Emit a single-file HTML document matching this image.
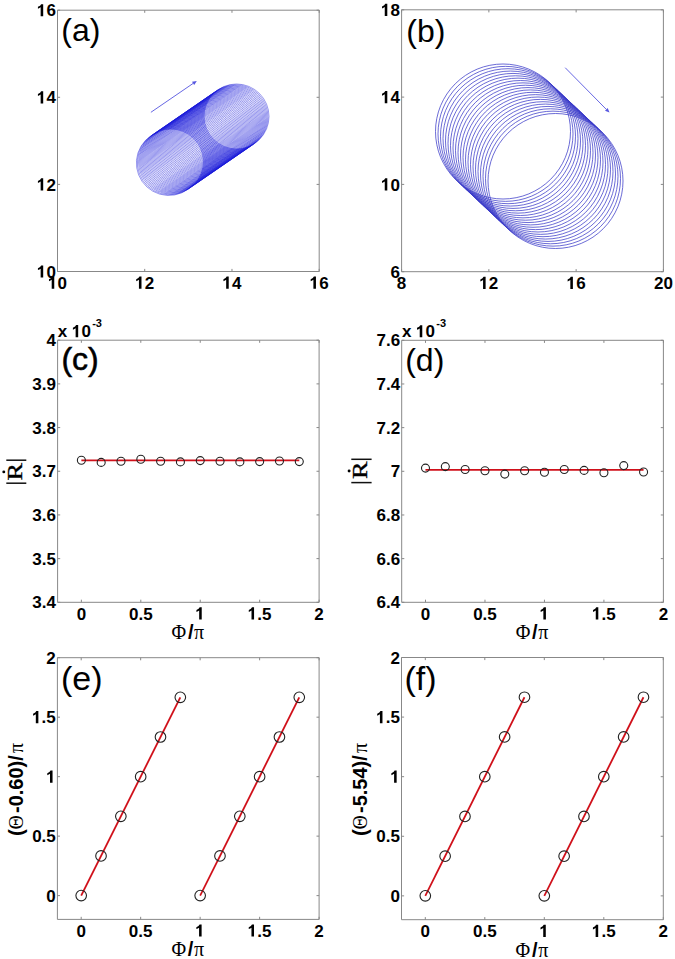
<!DOCTYPE html><html><head><meta charset="utf-8"><style>html,body{margin:0;padding:0;background:#fff}svg{display:block}</style></head><body><svg width="675" height="959" viewBox="0 0 675 959"><style>.t{font-family:'Liberation Sans', sans-serif;font-weight:bold;font-size:17px;fill:#000}.pl{font-family:'Liberation Sans', sans-serif;font-size:32.5px;fill:#000}.se{font-family:'Liberation Serif', serif;fill:#000}</style><rect width="675" height="959" fill="#fff"/><g fill="none" stroke="#1a1ad8" stroke-width="0.45"><circle cx="171.00" cy="161.50" r="32.5"/><circle cx="172.04" cy="160.79" r="32.5"/><circle cx="173.08" cy="160.07" r="32.5"/><circle cx="174.12" cy="159.36" r="32.5"/><circle cx="175.16" cy="158.64" r="32.5"/><circle cx="176.20" cy="157.93" r="32.5"/><circle cx="177.24" cy="157.21" r="32.5"/><circle cx="178.28" cy="156.50" r="32.5"/><circle cx="179.32" cy="155.79" r="32.5"/><circle cx="180.36" cy="155.07" r="32.5"/><circle cx="181.40" cy="154.36" r="32.5"/><circle cx="182.44" cy="153.64" r="32.5"/><circle cx="183.48" cy="152.93" r="32.5"/><circle cx="184.52" cy="152.21" r="32.5"/><circle cx="185.56" cy="151.50" r="32.5"/><circle cx="186.60" cy="150.79" r="32.5"/><circle cx="187.63" cy="150.07" r="32.5"/><circle cx="188.67" cy="149.36" r="32.5"/><circle cx="189.71" cy="148.64" r="32.5"/><circle cx="190.75" cy="147.93" r="32.5"/><circle cx="191.79" cy="147.21" r="32.5"/><circle cx="192.83" cy="146.50" r="32.5"/><circle cx="193.87" cy="145.79" r="32.5"/><circle cx="194.91" cy="145.07" r="32.5"/><circle cx="195.95" cy="144.36" r="32.5"/><circle cx="196.99" cy="143.64" r="32.5"/><circle cx="198.03" cy="142.93" r="32.5"/><circle cx="199.07" cy="142.21" r="32.5"/><circle cx="200.11" cy="141.50" r="32.5"/><circle cx="201.15" cy="140.79" r="32.5"/><circle cx="202.19" cy="140.07" r="32.5"/><circle cx="203.23" cy="139.36" r="32.5"/><circle cx="204.27" cy="138.64" r="32.5"/><circle cx="205.31" cy="137.93" r="32.5"/><circle cx="206.35" cy="137.21" r="32.5"/><circle cx="207.39" cy="136.50" r="32.5"/><circle cx="208.43" cy="135.79" r="32.5"/><circle cx="209.47" cy="135.07" r="32.5"/><circle cx="210.51" cy="134.36" r="32.5"/><circle cx="211.55" cy="133.64" r="32.5"/><circle cx="212.59" cy="132.93" r="32.5"/><circle cx="213.63" cy="132.21" r="32.5"/><circle cx="214.67" cy="131.50" r="32.5"/><circle cx="215.71" cy="130.79" r="32.5"/><circle cx="216.75" cy="130.07" r="32.5"/><circle cx="217.79" cy="129.36" r="32.5"/><circle cx="218.83" cy="128.64" r="32.5"/><circle cx="219.87" cy="127.93" r="32.5"/><circle cx="220.90" cy="127.21" r="32.5"/><circle cx="221.94" cy="126.50" r="32.5"/><circle cx="222.98" cy="125.79" r="32.5"/><circle cx="224.02" cy="125.07" r="32.5"/><circle cx="225.06" cy="124.36" r="32.5"/><circle cx="226.10" cy="123.64" r="32.5"/><circle cx="227.14" cy="122.93" r="32.5"/><circle cx="228.18" cy="122.21" r="32.5"/><circle cx="229.22" cy="121.50" r="32.5"/><circle cx="230.26" cy="120.79" r="32.5"/><circle cx="231.30" cy="120.07" r="32.5"/><circle cx="232.34" cy="119.36" r="32.5"/><circle cx="233.38" cy="118.64" r="32.5"/><circle cx="234.42" cy="117.93" r="32.5"/><circle cx="235.46" cy="117.21" r="32.5"/><circle cx="236.50" cy="116.50" r="32.5"/><path d="M194.30,183.69A32.5,32.5 0 1 1 158.64,131.79"/><path d="M193.32,184.37A32.5,32.5 0 1 1 157.65,132.46"/></g><line x1="150.9" y1="112.3" x2="193.09" y2="83.44" stroke="#5656e0" stroke-width="0.9"/><path d="M196.8,80.9L194.16,85.01L192.01,81.87Z" fill="#5656e0"/><path d="M57.50,10.20H319.20V271.50H57.50ZM57.50,271.50v-2.6M57.50,10.20v2.6M144.73,271.50v-2.6M144.73,10.20v2.6M231.97,271.50v-2.6M231.97,10.20v2.6M319.20,271.50v-2.6M319.20,10.20v2.6M57.50,271.50h2.6M319.20,271.50h-2.6M57.50,184.40h2.6M319.20,184.40h-2.6M57.50,97.30h2.6M319.20,97.30h-2.6M57.50,10.20h2.6M319.20,10.20h-2.6" fill="none" stroke="#888" stroke-width="1"/><text x="57.50" y="288.70" class="t" style="font-size:17px" >0</text><path d="M54.25,288.70L54.25,276.53L52.21,276.53Q51.70,278.07 48.98,279.26L48.98,281.22Q50.60,280.71 51.70,279.77L51.70,288.70Z" fill="#000"/><text x="144.73" y="288.70" class="t" style="font-size:17px" >2</text><path d="M141.49,288.70L141.49,276.53L139.45,276.53Q138.94,278.07 136.22,279.26L136.22,281.22Q137.83,280.71 138.94,279.77L138.94,288.70Z" fill="#000"/><text x="231.97" y="288.70" class="t" style="font-size:17px" >4</text><path d="M228.72,288.70L228.72,276.53L226.68,276.53Q226.17,278.07 223.45,279.26L223.45,281.22Q225.06,280.71 226.17,279.77L226.17,288.70Z" fill="#000"/><text x="319.20" y="288.70" class="t" style="font-size:17px" >6</text><path d="M315.95,288.70L315.95,276.53L313.91,276.53Q313.40,278.07 310.68,279.26L310.68,281.22Q312.30,280.71 313.40,279.77L313.40,288.70Z" fill="#000"/><text x="46.45" y="277.60" class="t" style="font-size:17px" >0</text><path d="M43.20,277.60L43.20,265.43L41.16,265.43Q40.65,266.98 37.93,268.17L37.93,270.12Q39.55,269.61 40.65,268.68L40.65,277.60Z" fill="#000"/><text x="46.45" y="190.50" class="t" style="font-size:17px" >2</text><path d="M43.20,190.50L43.20,178.33L41.16,178.33Q40.65,179.88 37.93,181.06L37.93,183.02Q39.55,182.51 40.65,181.57L40.65,190.50Z" fill="#000"/><text x="46.45" y="103.40" class="t" style="font-size:17px" >4</text><path d="M43.20,103.40L43.20,91.23L41.16,91.23Q40.65,92.78 37.93,93.97L37.93,95.92Q39.55,95.41 40.65,94.48L40.65,103.40Z" fill="#000"/><text x="46.45" y="16.30" class="t" style="font-size:17px" >6</text><path d="M43.20,16.30L43.20,4.13L41.16,4.13Q40.65,5.67 37.93,6.86L37.93,8.82Q39.55,8.31 40.65,7.37L40.65,16.30Z" fill="#000"/><text x="61.3" y="40.6" class="pl" style="font-size:32px">(a)</text><g fill="none" stroke="#3a3ac8" stroke-width="0.75"><circle cx="503.00" cy="131.50" r="67.5"/><circle cx="505.50" cy="133.86" r="67.5"/><circle cx="508.00" cy="136.21" r="67.5"/><circle cx="510.50" cy="138.57" r="67.5"/><circle cx="513.00" cy="140.93" r="67.5"/><circle cx="515.50" cy="143.29" r="67.5"/><circle cx="518.00" cy="145.64" r="67.5"/><circle cx="520.50" cy="148.00" r="67.5"/><circle cx="523.00" cy="150.36" r="67.5"/><circle cx="525.50" cy="152.71" r="67.5"/><circle cx="528.00" cy="155.07" r="67.5"/><circle cx="530.50" cy="157.43" r="67.5"/><circle cx="533.00" cy="159.79" r="67.5"/><circle cx="535.50" cy="162.14" r="67.5"/><circle cx="538.00" cy="164.50" r="67.5"/><circle cx="540.50" cy="166.86" r="67.5"/><circle cx="543.00" cy="169.21" r="67.5"/><circle cx="545.50" cy="171.57" r="67.5"/><circle cx="548.00" cy="173.93" r="67.5"/><circle cx="550.50" cy="176.29" r="67.5"/><circle cx="553.00" cy="178.64" r="67.5"/><circle cx="555.50" cy="181.00" r="67.5"/></g><line x1="565.2" y1="67.7" x2="606.34" y2="109.40" stroke="#5656e0" stroke-width="0.9"/><path d="M609.5,112.6L604.99,110.73L607.69,108.06Z" fill="#5656e0"/><path d="M401.60,9.80H663.40V271.70H401.60ZM401.60,271.70v-2.6M401.60,9.80v2.6M488.87,271.70v-2.6M488.87,9.80v2.6M576.13,271.70v-2.6M576.13,9.80v2.6M663.40,271.70v-2.6M663.40,9.80v2.6M401.60,271.70h2.6M663.40,271.70h-2.6M401.60,184.40h2.6M663.40,184.40h-2.6M401.60,97.10h2.6M663.40,97.10h-2.6M401.60,9.80h2.6M663.40,9.80h-2.6" fill="none" stroke="#888" stroke-width="1"/><text x="396.87" y="288.90" class="t" style="font-size:17px" >8</text><text x="488.87" y="288.90" class="t" style="font-size:17px" >2</text><path d="M485.62,288.90L485.62,276.73L483.58,276.73Q483.07,278.27 480.35,279.46L480.35,281.42Q481.96,280.91 483.07,279.97L483.07,288.90Z" fill="#000"/><text x="576.13" y="288.90" class="t" style="font-size:17px" >6</text><path d="M572.89,288.90L572.89,276.73L570.85,276.73Q570.34,278.27 567.62,279.46L567.62,281.42Q569.23,280.91 570.34,279.97L570.34,288.90Z" fill="#000"/><text x="653.95" y="288.90" class="t" style="font-size:17px" >20</text><text x="390.55" y="277.80" class="t" style="font-size:17px" >6</text><text x="390.55" y="190.50" class="t" style="font-size:17px" >0</text><path d="M387.30,190.50L387.30,178.33L385.26,178.33Q384.75,179.88 382.03,181.06L382.03,183.02Q383.65,182.51 384.75,181.57L384.75,190.50Z" fill="#000"/><text x="390.55" y="103.20" class="t" style="font-size:17px" >4</text><path d="M387.30,103.20L387.30,91.03L385.26,91.03Q384.75,92.58 382.03,93.77L382.03,95.72Q383.65,95.21 384.75,94.28L384.75,103.20Z" fill="#000"/><text x="390.55" y="15.90" class="t" style="font-size:17px" >8</text><path d="M387.30,15.90L387.30,3.73L385.26,3.73Q384.75,5.28 382.03,6.47L382.03,8.42Q383.65,7.91 384.75,6.98L384.75,15.90Z" fill="#000"/><text x="406.3" y="41.8" class="pl" style="font-size:32px">(b)</text><line x1="81.37" y1="460.33" x2="299.29" y2="460.33" stroke="#d0101a" stroke-width="1.8"/><g fill="none" stroke="#222" stroke-width="1.1"><circle cx="81.37" cy="460.30" r="4"/><circle cx="101.18" cy="462.40" r="4"/><circle cx="120.99" cy="461.20" r="4"/><circle cx="140.80" cy="459.20" r="4"/><circle cx="160.62" cy="461.20" r="4"/><circle cx="180.43" cy="461.90" r="4"/><circle cx="200.24" cy="460.60" r="4"/><circle cx="220.05" cy="461.20" r="4"/><circle cx="239.86" cy="461.90" r="4"/><circle cx="259.67" cy="461.60" r="4"/><circle cx="279.48" cy="461.00" r="4"/><circle cx="299.29" cy="461.60" r="4"/></g><path d="M57.60,340.20H319.10V602.30H57.60ZM81.37,602.30v-2.6M81.37,340.20v2.6M140.80,602.30v-2.6M140.80,340.20v2.6M200.24,602.30v-2.6M200.24,340.20v2.6M259.67,602.30v-2.6M259.67,340.20v2.6M319.10,602.30v-2.6M319.10,340.20v2.6M57.60,602.30h2.6M319.10,602.30h-2.6M57.60,558.62h2.6M319.10,558.62h-2.6M57.60,514.93h2.6M319.10,514.93h-2.6M57.60,471.25h2.6M319.10,471.25h-2.6M57.60,427.57h2.6M319.10,427.57h-2.6M57.60,383.88h2.6M319.10,383.88h-2.6M57.60,340.20h2.6M319.10,340.20h-2.6" fill="none" stroke="#888" stroke-width="1"/><text x="76.65" y="619.50" class="t" style="font-size:17px" >0</text><text x="128.99" y="619.50" class="t" style="font-size:17px" >0.5</text><path d="M201.72,619.50L201.72,607.33L199.68,607.33Q199.17,608.88 196.45,610.07L196.45,612.02Q198.06,611.51 199.17,610.58L199.17,619.50Z" fill="#000"/><text x="257.31" y="619.50" class="t" style="font-size:17px" >.5</text><path d="M254.06,619.50L254.06,607.33L252.02,607.33Q251.51,608.88 248.79,610.07L248.79,612.02Q250.40,611.51 251.51,610.58L251.51,619.50Z" fill="#000"/><text x="314.37" y="619.50" class="t" style="font-size:17px" >2</text><text x="32.37" y="608.40" class="t" style="font-size:17px" >3.4</text><text x="32.37" y="564.72" class="t" style="font-size:17px" >3.5</text><text x="32.37" y="521.03" class="t" style="font-size:17px" >3.6</text><text x="32.37" y="477.35" class="t" style="font-size:17px" >3.7</text><text x="32.37" y="433.67" class="t" style="font-size:17px" >3.8</text><text x="32.37" y="389.98" class="t" style="font-size:17px" >3.9</text><text x="46.55" y="346.30" class="t" style="font-size:17px" >4</text><text x="61.4" y="370.3" class="pl" style="font-size:32px" stroke="#000" stroke-width="0.55">(c)</text><line x1="425.49" y1="469.8" x2="643.57" y2="469.8" stroke="#d0101a" stroke-width="1.8"/><g fill="none" stroke="#222" stroke-width="1.1"><circle cx="425.49" cy="468.10" r="4"/><circle cx="445.32" cy="466.60" r="4"/><circle cx="465.14" cy="469.50" r="4"/><circle cx="484.97" cy="470.80" r="4"/><circle cx="504.79" cy="474.10" r="4"/><circle cx="524.62" cy="470.80" r="4"/><circle cx="544.45" cy="472.30" r="4"/><circle cx="564.27" cy="469.50" r="4"/><circle cx="584.10" cy="470.40" r="4"/><circle cx="603.92" cy="472.70" r="4"/><circle cx="623.75" cy="465.60" r="4"/><circle cx="643.57" cy="472.00" r="4"/></g><path d="M401.70,340.30H663.40V602.30H401.70ZM425.49,602.30v-2.6M425.49,340.30v2.6M484.97,602.30v-2.6M484.97,340.30v2.6M544.45,602.30v-2.6M544.45,340.30v2.6M603.92,602.30v-2.6M603.92,340.30v2.6M663.40,602.30v-2.6M663.40,340.30v2.6M401.70,602.30h2.6M663.40,602.30h-2.6M401.70,558.63h2.6M663.40,558.63h-2.6M401.70,514.97h2.6M663.40,514.97h-2.6M401.70,471.30h2.6M663.40,471.30h-2.6M401.70,427.63h2.6M663.40,427.63h-2.6M401.70,383.97h2.6M663.40,383.97h-2.6M401.70,340.30h2.6M663.40,340.30h-2.6" fill="none" stroke="#888" stroke-width="1"/><text x="420.76" y="619.50" class="t" style="font-size:17px" >0</text><text x="473.15" y="619.50" class="t" style="font-size:17px" >0.5</text><path d="M545.92,619.50L545.92,607.33L543.88,607.33Q543.37,608.88 540.65,610.07L540.65,612.02Q542.27,611.51 543.37,610.58L543.37,619.50Z" fill="#000"/><text x="601.56" y="619.50" class="t" style="font-size:17px" >.5</text><path d="M598.31,619.50L598.31,607.33L596.27,607.33Q595.76,608.88 593.04,610.07L593.04,612.02Q594.66,611.51 595.76,610.58L595.76,619.50Z" fill="#000"/><text x="658.67" y="619.50" class="t" style="font-size:17px" >2</text><text x="376.47" y="608.40" class="t" style="font-size:17px" >6.4</text><text x="376.47" y="564.73" class="t" style="font-size:17px" >6.6</text><text x="376.47" y="521.07" class="t" style="font-size:17px" >6.8</text><text x="390.65" y="477.40" class="t" style="font-size:17px" >7</text><text x="376.47" y="433.73" class="t" style="font-size:17px" >7.2</text><text x="376.47" y="390.07" class="t" style="font-size:17px" >7.4</text><text x="376.47" y="346.40" class="t" style="font-size:17px" >7.6</text><text x="405.2" y="371.2" class="pl" style="font-size:32px">(d)</text><text y="639.10" style="font-size:20px"><tspan x="171.50" class="se">Φ</tspan><tspan x="187.90" style="font-family:'Liberation Sans', sans-serif;font-weight:bold">/</tspan><tspan x="194.10" class="se">π</tspan></text><text x="57.80" y="337.20" class="t" style="font-size:17px" >x </text><text x="81.43" y="337.20" class="t" style="font-size:17px" >0</text><path d="M78.18,337.20L78.18,325.03L76.14,325.03Q75.63,326.57 72.91,327.76L72.91,329.72Q74.53,329.21 75.63,328.27L75.63,337.20Z" fill="#000"/><text x="92.20" y="326.70" class="t" style="font-size:11px">-3</text><rect x="6.30" y="459.45" width="20.0" height="1.5" fill="#111"/><rect x="6.30" y="482.45" width="20.0" height="1.5" fill="#111"/><circle cx="3.80" cy="471.90" r="1.45" fill="#000"/><text transform="translate(21.60,480.60) rotate(-90) scale(1.25,1)" class="se" style="font-size:21px" stroke="#000" stroke-width="0.35" x="0" y="0">R</text><text y="639.10" style="font-size:20px"><tspan x="515.70" class="se">Φ</tspan><tspan x="532.10" style="font-family:'Liberation Sans', sans-serif;font-weight:bold">/</tspan><tspan x="538.30" class="se">π</tspan></text><text x="401.90" y="337.30" class="t" style="font-size:17px" >x </text><text x="425.53" y="337.30" class="t" style="font-size:17px" >0</text><path d="M422.28,337.30L422.28,325.13L420.24,325.13Q419.73,326.68 417.01,327.87L417.01,329.82Q418.63,329.31 419.73,328.38L419.73,337.30Z" fill="#000"/><text x="436.30" y="326.80" class="t" style="font-size:11px">-3</text><rect x="351.30" y="458.55" width="20.3" height="1.5" fill="#111"/><rect x="351.30" y="481.85" width="20.3" height="1.5" fill="#111"/><circle cx="349.10" cy="471.00" r="1.45" fill="#000"/><text transform="translate(366.60,479.00) rotate(-90) scale(1.25,1)" class="se" style="font-size:21px" stroke="#000" stroke-width="0.35" x="0" y="0">R</text><line x1="81.19" y1="895.61" x2="180.32" y2="697.35" stroke="#d0101a" stroke-width="1.8"/><line x1="200.15" y1="895.61" x2="299.27" y2="697.35" stroke="#d0101a" stroke-width="1.8"/><g fill="none" stroke="#222" stroke-width="1.1"><circle cx="81.19" cy="895.61" r="5.3"/><circle cx="101.02" cy="855.96" r="5.3"/><circle cx="120.84" cy="816.31" r="5.3"/><circle cx="140.67" cy="776.65" r="5.3"/><circle cx="160.49" cy="737.00" r="5.3"/><circle cx="180.32" cy="697.35" r="5.3"/><circle cx="200.15" cy="895.61" r="5.3"/><circle cx="219.97" cy="855.96" r="5.3"/><circle cx="239.80" cy="816.31" r="5.3"/><circle cx="259.62" cy="776.65" r="5.3"/><circle cx="279.45" cy="737.00" r="5.3"/><circle cx="299.27" cy="697.35" r="5.3"/></g><path d="M57.40,657.70H319.10V919.40H57.40ZM81.19,919.40v-2.6M81.19,657.70v2.6M140.67,919.40v-2.6M140.67,657.70v2.6M200.15,919.40v-2.6M200.15,657.70v2.6M259.62,919.40v-2.6M259.62,657.70v2.6M319.10,919.40v-2.6M319.10,657.70v2.6M57.40,895.61h2.6M319.10,895.61h-2.6M57.40,836.13h2.6M319.10,836.13h-2.6M57.40,776.65h2.6M319.10,776.65h-2.6M57.40,717.18h2.6M319.10,717.18h-2.6M57.40,657.70h2.6M319.10,657.70h-2.6" fill="none" stroke="#888" stroke-width="1"/><text x="76.46" y="936.60" class="t" style="font-size:17px" >0</text><text x="128.85" y="936.60" class="t" style="font-size:17px" >0.5</text><path d="M201.62,936.60L201.62,924.43L199.58,924.43Q199.07,925.98 196.35,927.17L196.35,929.12Q197.97,928.61 199.07,927.68L199.07,936.60Z" fill="#000"/><text x="257.26" y="936.60" class="t" style="font-size:17px" >.5</text><path d="M254.01,936.60L254.01,924.43L251.97,924.43Q251.46,925.98 248.74,927.17L248.74,929.12Q250.36,928.61 251.46,927.68L251.46,936.60Z" fill="#000"/><text x="314.37" y="936.60" class="t" style="font-size:17px" >2</text><text x="46.35" y="901.71" class="t" style="font-size:17px" >0</text><text x="32.17" y="842.23" class="t" style="font-size:17px" >0.5</text><path d="M52.55,782.75L52.55,770.58L50.51,770.58Q50.00,772.13 47.28,773.32L47.28,775.27Q48.90,774.76 50.00,773.83L50.00,782.75Z" fill="#000"/><text x="41.62" y="723.28" class="t" style="font-size:17px" >.5</text><path d="M38.37,723.28L38.37,711.11L36.33,711.11Q35.82,712.65 33.10,713.84L33.10,715.80Q34.72,715.29 35.82,714.35L35.82,723.28Z" fill="#000"/><text x="46.35" y="663.80" class="t" style="font-size:17px" >2</text><text x="61.0" y="690.00" class="pl" style="font-size:34px">(e)</text><text y="956.20" style="font-size:20px"><tspan x="171.40" class="se">Φ</tspan><tspan x="187.80" style="font-family:'Liberation Sans', sans-serif;font-weight:bold">/</tspan><tspan x="194.00" class="se">π</tspan></text><text transform="translate(22.90,840.80) rotate(-90)" y="0" style="font-size:20px;font-family:'Liberation Sans', sans-serif;font-weight:bold"><tspan x="4.9">(</tspan><tspan x="11.4" class="se" style="font-weight:normal">Θ</tspan><tspan x="27.8">-0.60)/</tspan><tspan x="87.7" class="se" style="font-weight:normal">π</tspan></text><line x1="425.30" y1="895.86" x2="524.47" y2="697.23" stroke="#d0101a" stroke-width="1.8"/><line x1="544.30" y1="895.86" x2="643.47" y2="697.23" stroke="#d0101a" stroke-width="1.8"/><g fill="none" stroke="#222" stroke-width="1.1"><circle cx="425.30" cy="895.86" r="5.3"/><circle cx="445.13" cy="856.14" r="5.3"/><circle cx="464.97" cy="816.41" r="5.3"/><circle cx="484.80" cy="776.68" r="5.3"/><circle cx="504.63" cy="736.95" r="5.3"/><circle cx="524.47" cy="697.23" r="5.3"/><circle cx="544.30" cy="895.86" r="5.3"/><circle cx="564.13" cy="856.14" r="5.3"/><circle cx="583.97" cy="816.41" r="5.3"/><circle cx="603.80" cy="776.68" r="5.3"/><circle cx="623.63" cy="736.95" r="5.3"/><circle cx="643.47" cy="697.23" r="5.3"/></g><path d="M401.50,657.50H663.30V919.70H401.50ZM425.30,919.70v-2.6M425.30,657.50v2.6M484.80,919.70v-2.6M484.80,657.50v2.6M544.30,919.70v-2.6M544.30,657.50v2.6M603.80,919.70v-2.6M603.80,657.50v2.6M663.30,919.70v-2.6M663.30,657.50v2.6M401.50,895.86h2.6M663.30,895.86h-2.6M401.50,836.27h2.6M663.30,836.27h-2.6M401.50,776.68h2.6M663.30,776.68h-2.6M401.50,717.09h2.6M663.30,717.09h-2.6M401.50,657.50h2.6M663.30,657.50h-2.6" fill="none" stroke="#888" stroke-width="1"/><text x="420.57" y="936.90" class="t" style="font-size:17px" >0</text><text x="472.98" y="936.90" class="t" style="font-size:17px" >0.5</text><path d="M545.78,936.90L545.78,924.73L543.74,924.73Q543.23,926.28 540.51,927.47L540.51,929.42Q542.12,928.91 543.23,927.98L543.23,936.90Z" fill="#000"/><text x="601.44" y="936.90" class="t" style="font-size:17px" >.5</text><path d="M598.19,936.90L598.19,924.73L596.15,924.73Q595.64,926.28 592.92,927.47L592.92,929.42Q594.53,928.91 595.64,927.98L595.64,936.90Z" fill="#000"/><text x="658.57" y="936.90" class="t" style="font-size:17px" >2</text><text x="390.45" y="901.96" class="t" style="font-size:17px" >0</text><text x="376.27" y="842.37" class="t" style="font-size:17px" >0.5</text><path d="M396.65,782.78L396.65,770.61L394.61,770.61Q394.10,772.16 391.38,773.35L391.38,775.30Q393.00,774.79 394.10,773.86L394.10,782.78Z" fill="#000"/><text x="385.72" y="723.19" class="t" style="font-size:17px" >.5</text><path d="M382.47,723.19L382.47,711.02L380.44,711.02Q379.92,712.57 377.20,713.76L377.20,715.71Q378.82,715.20 379.92,714.27L379.92,723.19Z" fill="#000"/><text x="390.45" y="663.60" class="t" style="font-size:17px" >2</text><text x="404.5" y="689.80" class="pl" style="font-size:34px">(f)</text><text y="956.50" style="font-size:20px"><tspan x="515.55" class="se">Φ</tspan><tspan x="531.95" style="font-family:'Liberation Sans', sans-serif;font-weight:bold">/</tspan><tspan x="538.15" class="se">π</tspan></text><text transform="translate(367.00,840.80) rotate(-90)" y="0" style="font-size:20px;font-family:'Liberation Sans', sans-serif;font-weight:bold"><tspan x="4.9">(</tspan><tspan x="11.4" class="se" style="font-weight:normal">Θ</tspan><tspan x="27.8">-5.54)/</tspan><tspan x="87.7" class="se" style="font-weight:normal">π</tspan></text></svg></body></html>
